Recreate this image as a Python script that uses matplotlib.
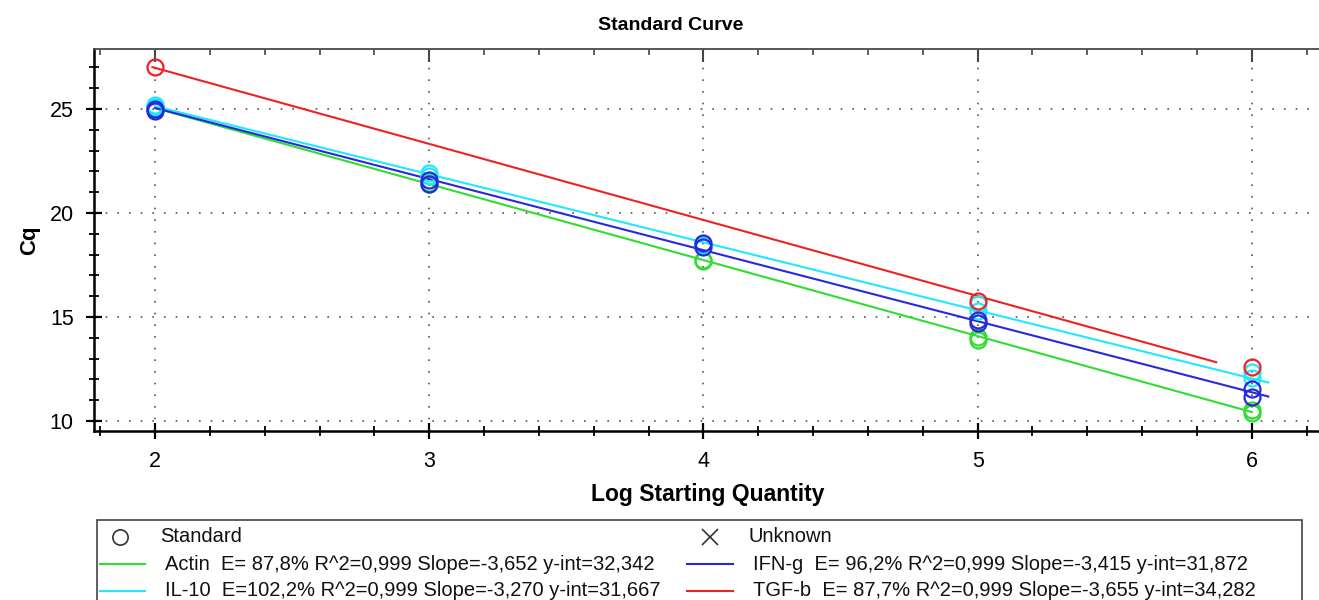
import matplotlib
matplotlib.use("Agg")
import matplotlib.pyplot as plt
import numpy as np
from matplotlib.lines import Line2D
from matplotlib.patches import Rectangle
from matplotlib.ticker import MultipleLocator

plt.rcParams['font.family'] = ['Liberation Sans', 'DejaVu Sans']

# ---- data ----
genes = ["Actin", "IL-10", "IFN-g", "TGF-b"]
colors = ["#30dd30", "#20e8ff", "#2828dd", "#ee2222"]
eff = [87.8, 102.2, 96.2, 87.7]
r2 = [0.999, 0.999, 0.999, 0.999]
slopes = [-3.652, -3.270, -3.415, -3.655]
yints = [32.342, 31.667, 31.872, 34.282]
line_xmin = [2.0, 2.0, 2.0, 1.99]
line_xmax = [6.0, 6.06, 6.06, 5.87]

actin_x = [2, 2, 3, 3, 4, 4, 5, 5, 6, 6]
actin_y = [25.0, 25.1, 21.4, 21.45, 17.7, 17.75, 14.05, 13.9, 10.55, 10.4]
il10_x = [2, 2, 3, 3, 4, 4, 5, 5, 6, 6]
il10_y = [25.2, 25.1, 21.9, 21.8, 18.5, 18.45, 15.6, 15.3, 12.35, 12.05]
ifng_x = [2, 2, 3, 3, 4, 4, 5, 5, 6, 6]
ifng_y = [24.9, 25.0, 21.6, 21.4, 18.55, 18.35, 14.85, 14.7, 11.55, 11.15]
tgfb_x = [2, 5, 6]
tgfb_y = [27.0, 15.75, 12.6]
points_x = [actin_x, il10_x, ifng_x, tgfb_x]
points_y = [actin_y, il10_y, ifng_y, tgfb_y]

x_ticks = [2, 3, 4, 5, 6]
y_ticks = [10, 15, 20, 25]

W, H = 1319, 600
fig = plt.figure(figsize=(W / 100, H / 100), dpi=100)

def fx(x):
    return x / W

def fy(y):
    return 1 - y / H

left, right, top, bottom = 94, 1319, 49, 431
ax = fig.add_axes([fx(left), fy(bottom), fx(right - left), (bottom - top) / H])
ax.set_xlim(1.777, 6.245)
ax.set_ylim(9.52, 27.88)

for i, g in enumerate(genes):
    xs = np.array([line_xmin[i], line_xmax[i]])
    ax.plot(xs, yints[i] + slopes[i] * xs, color=colors[i], lw=1.5, zorder=3)
for i, g in enumerate(genes):
    ax.plot(points_x[i], points_y[i], linestyle='none', marker='o', ms=11.5,
            mfc='none', mec=colors[i], mew=1.6, zorder=4)

ax.set_xticks(x_ticks)
ax.set_yticks(y_ticks)
ax.xaxis.set_minor_locator(MultipleLocator(0.2))
ax.yaxis.set_minor_locator(MultipleLocator(1))
ax.grid(True, which='major', color='#555555', linestyle=(0, (1, 6)), lw=1.2)
ax.tick_params(axis='both', which='major', direction='inout', length=11, width=1.6,
               labelsize=15.5, pad=9, colors='black', top=False, right=False)
ax.tick_params(axis='both', which='minor', direction='inout', length=7, width=1.3,
               top=False, right=False)
for s in ['left', 'bottom']:
    ax.spines[s].set_linewidth(1.8)
ax.spines['right'].set_visible(False)
ax.spines['top'].set_color('#555555')
ax.spines['top'].set_linewidth(1.2)

sec = ax.secondary_xaxis('top')
sec.set_xticks(x_ticks)
sec.xaxis.set_minor_locator(MultipleLocator(0.2))
sec.tick_params(which='major', direction='in', length=9, width=1.5, labeltop=False, colors='#444444')
sec.tick_params(which='minor', direction='in', length=4, width=1.2, colors='#444444')
sec.spines['top'].set_color('#555555')
sec.spines['top'].set_linewidth(1.2)

fig.text(fx(671), fy(25), "Standard Curve", ha='center', va='center', fontsize=14, fontweight='bold')
fig.text(fx(708), fy(495), "Log Starting Quantity", ha='center', va='center', fontsize=16.5, fontweight='bold')
fig.text(fx(30), fy(240), "Cq", ha='center', va='center', fontsize=16, fontweight='bold', rotation=90)

# ---- legend ----
fig.patches.append(Rectangle((fx(97), fy(605)), fx(1302 - 97), (605 - 520) / H,
                             transform=fig.transFigure, fill=False, ec='#444444', lw=1.2))
fs = 14.5
fig.add_artist(Line2D([fx(120)], [fy(537)], marker='o', ms=11, mfc='none', mec='#333333', mew=1.2,
                      transform=fig.transFigure))
fig.text(fx(160), fy(537), "Standard", va='center', fontsize=fs, color='#111111')
fig.add_artist(Line2D([fx(710)], [fy(537)], marker='x', ms=12, mec='#333333', mew=1.2,
                      transform=fig.transFigure))
fig.text(fx(748), fy(537), "Unknown", va='center', fontsize=fs, color='#111111')

slots = [(0, 564), (0, 591), (1, 564), (1, 591)]
col_line = [(100, 145), (687, 733)]
col_name = [165, 753]
for i, g in enumerate(genes):
    c, y = slots[i]
    x0, x1 = col_line[c]
    fig.add_artist(Line2D([fx(x0), fx(x1)], [fy(y), fy(y)], color=colors[i], lw=1.5,
                          transform=fig.transFigure))
    stat = ("E=%5.1f%% R^2=%.3f Slope=%.3f y-int=%.3f" % (eff[i], r2[i], slopes[i], yints[i])).replace('.', ',')
    fig.text(fx(col_name[c]), fy(y), g + "  " + stat, va='center', fontsize=fs, color='#111111')

fig.savefig("out.png", dpi=100)
